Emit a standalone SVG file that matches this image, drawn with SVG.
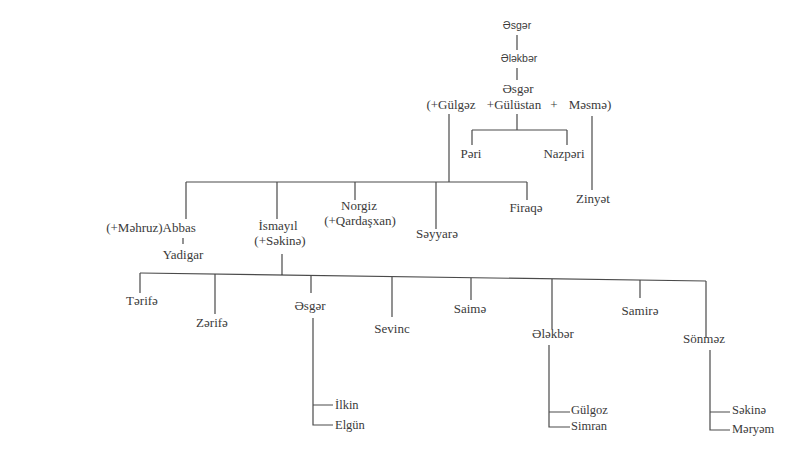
<svg xmlns="http://www.w3.org/2000/svg" width="800" height="459" viewBox="0 0 800 459">
<style>
.t{font-family:"Liberation Serif","DejaVu Serif","Noto Serif",serif;font-size:13px;fill:#3a3a3a;text-anchor:middle}
.s{font-family:"Liberation Sans","DejaVu Sans",sans-serif;font-size:10.5px;fill:#3a3a3a;text-anchor:middle}
.l{text-anchor:start;font-size:12.5px}
.c{stroke:#4a4a4a;stroke-width:1.2;fill:none}
</style>
<rect width="800" height="459" fill="#fff"/>
<g id="connectors" class="c">
<path d="M517,35V50M517,68V80"/>
<path d="M449,114V182M186,182H527M186,182V219M277,182V219M355,182V200M436,182V229M527,182V200"/>
<path d="M517,114V130M472,130H567M472,130V145M567,130V145"/>
<path d="M592,116V190"/>
<path d="M183,238V244"/>
<path d="M282,254V275M140,273L706,281"/>
<path d="M140,273V293M215,274V314M311,275V293M392,277V317M471,278V300M552,279V329M640,280V298M706,281V337"/>
<path d="M313,318V425H333M313,405H333"/>
<path d="M549,345V427H570M549,412H570"/>
<path d="M710,350V430H730M710,412H730"/>
</g>
<g id="n-asgar1"><text class="s" x="517" y="29">Əsgər</text></g>
<g id="n-alakbar1"><text class="s" x="519" y="62">Ələkbər</text></g>
<g id="n-asgar2"><text class="t" x="518" y="93">Əsgər</text>
<text class="t" x="519" y="109"><tspan x="451">(+Gülgəz</tspan><tspan x="514">+Gülüstan</tspan><tspan x="554">+</tspan><tspan x="590">Məsmə)</tspan></text></g>
<g id="n-pari"><text class="t" x="471" y="158">Pəri</text></g>
<g id="n-nazpari"><text class="t" x="564" y="158">Nazpəri</text></g>
<g id="n-zinyat"><text class="t" x="593" y="203">Zinyət</text></g>
<g id="n-abbas"><text class="t" x="151" y="232">(+Məhruz)Abbas</text></g>
<g id="n-yadigar"><text class="t" x="183" y="259">Yadigar</text></g>
<g id="n-ismayil"><text class="t" x="278" y="230">İsmayıl</text><text class="t" x="280" y="245">(+Səkinə)</text></g>
<g id="n-norgiz"><text class="t" x="359" y="210">Norgiz</text><text class="t" x="360" y="225">(+Qardaşxan)</text></g>
<g id="n-sayyara"><text class="t" x="437" y="238">Səyyarə</text></g>
<g id="n-firaqa"><text class="t" x="526" y="212">Firaqə</text></g>
<g id="n-tarifa"><text class="t" x="142" y="305">Tərifə</text></g>
<g id="n-zarifa"><text class="t" x="212" y="327">Zərifə</text></g>
<g id="n-asgar3"><text class="t" x="310" y="310">Əsgər</text></g>
<g id="n-sevinc"><text class="t" x="392" y="333">Sevinc</text></g>
<g id="n-saima"><text class="t" x="470" y="313">Saimə</text></g>
<g id="n-alakbar2"><text class="t" x="553" y="338">Ələkbər</text></g>
<g id="n-samira"><text class="t" x="640" y="315">Samirə</text></g>
<g id="n-sonmaz"><text class="t" x="704" y="343">Sönməz</text></g>
<g id="n-ilkin"><text class="t l" x="335" y="409">İlkin</text></g>
<g id="n-elgun"><text class="t l" x="335" y="429">Elgün</text></g>
<g id="n-gulgoz"><text class="t l" x="571" y="414">Gülgoz</text></g>
<g id="n-simran"><text class="t l" x="571" y="430">Simran</text></g>
<g id="n-sakina"><text class="t l" x="732" y="414">Səkinə</text></g>
<g id="n-maryam"><text class="t l" x="732" y="433">Məryəm</text></g>
</svg>
